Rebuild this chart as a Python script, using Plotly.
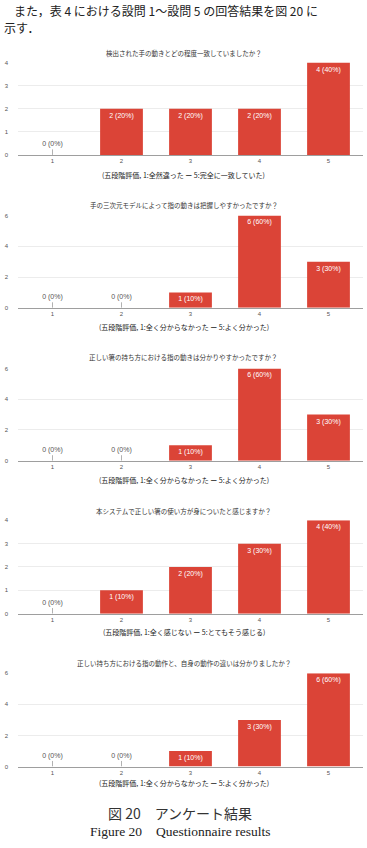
import plotly.graph_objects as go

W, H = 367, 848

categories = ["1", "2", "3", "4", "5"]

titles = [
    "検出された手の動きとどの程度一致していましたか？",
    "手の三次元モデルによって指の動きは把握しやすかったですか？",
    "正しい箸の持ち方における指の動きは分かりやすかったですか？",
    "本システムで正しい箸の使い方が身についたと感じますか？",
    "正しい持ち方における指の動作と、自身の動作の違いは分かりましたか？",
]
xlabels = [
    "(五段階評価, 1:全然違った ー 5:完全に一致していた)",
    "(五段階評価, 1:全く分からなかった ー 5:よく分かった)",
    "(五段階評価, 1:全く分からなかった ー 5:よく分かった)",
    "(五段階評価, 1:全く感じない ー 5:とてもそう感じる)",
    "(五段階評価, 1:全く分からなかった ー 5:よく分かった)",
]
q1 = [0, 2, 2, 2, 4]
q2 = [0, 0, 1, 6, 3]
q3 = [0, 0, 1, 6, 3]
q4 = [0, 1, 2, 3, 4]
q5 = [0, 0, 1, 3, 6]
series = [q1, q2, q3, q4, q5]
yticks = [[0, 1, 2, 3, 4], [0, 2, 4, 6], [0, 2, 4, 6], [0, 1, 2, 3, 4], [0, 2, 4, 6]]

intro_line1 = "また，表 4 における設問 1～設問 5 の回答結果を図 20 に"
intro_line2 = "示す．"
caption_ja = "図 20　アンケート結果"
caption_en = "Figure 20　Questionnaire results"

# layout in pixels (top, bottom) of each plot area
areas = [(60, 153), (214, 307), (368, 461), (521, 615), (675, 769)]
title_y = [50, 203, 357, 512, 665]
xlab_y = [173, 326, 480, 633, 786]
x0, x1 = 18, 363

RED = "#DB4437"
JP = "Noto Sans CJK JP"

def py(p):
    return 1 - p / H

fig = go.Figure()
annotations = []
for i, vals in enumerate(series):
    total = sum(vals)
    n = i + 1
    xa = "x" if n == 1 else f"x{n}"
    ya = "y" if n == 1 else f"y{n}"
    labels = [f"{v} ({round(100 * v / total)}%)" for v in vals]
    fig.add_trace(go.Bar(
        x=categories, y=vals, xaxis=xa, yaxis=ya,
        marker=dict(color=RED, line=dict(width=0)),
        width=0.62, text=[l if v else "" for l, v in zip(labels, vals)],
        textposition="inside",
        insidetextanchor="end", textangle=0, constraintext="none",
        textfont=dict(size=7, color="white", family="Arial"),
        showlegend=False, hoverinfo="skip",
    ))
    ymax = max(vals)
    zx = [c for c, v in zip(categories, vals) if v == 0]
    zl = [l for l, v in zip(labels, vals) if v == 0]
    if zx:
        fig.add_trace(go.Scatter(
            x=zx, y=[0] * len(zx), xaxis=xa, yaxis=ya, mode="markers",
            marker=dict(size=1, color="rgba(0,0,0,0)"),
            error_y=dict(type="data", array=[ymax * 0.06] * len(zx),
                         arrayminus=[0] * len(zx), symmetric=False,
                         width=0, thickness=0.8, color="#9e9e9e"),
            showlegend=False, hoverinfo="skip",
        ))
        fig.add_trace(go.Scatter(
            x=zx, y=[ymax * 0.115] * len(zx), xaxis=xa, yaxis=ya, mode="text",
            text=zl, textposition="middle center",
            textfont=dict(size=7, color="#555555", family="Arial"),
            showlegend=False, hoverinfo="skip",
        ))
    t, b = areas[i]
    fig.layout[f"xaxis{'' if n == 1 else n}"] = dict(
        domain=[x0 / W, x1 / W], anchor=ya, type="category",
        range=[-0.5, 4.5], showgrid=False, showline=True,
        linecolor="#9e9e9e", linewidth=1, ticks="",
        tickfont=dict(size=6, color="#555555", family="Arial"), fixedrange=True,
    )
    fig.layout[f"yaxis{'' if n == 1 else n}"] = dict(
        domain=[py(b), py(t)], anchor=xa, range=[0, ymax],
        tickvals=yticks[i], showgrid=True, gridcolor="#ececec",
        gridwidth=1, zeroline=False, showline=False,
        tickfont=dict(size=6, color="#555555", family="Arial"),
        ticklabelstandoff=9,
    )
    annotations.append(dict(
        text=titles[i], x=0.5, y=py(title_y[i]), xref="paper", yref="paper",
        showarrow=False, xanchor="center", yanchor="middle",
        font=dict(size=6.5, color="#333333", family=JP),
    ))
    annotations.append(dict(
        text=xlabels[i], x=0.5, y=py(xlab_y[i]), xref="paper", yref="paper",
        showarrow=False, xanchor="center", yanchor="middle",
        font=dict(size=7, color="#222222", family=JP),
    ))

annotations += [
    dict(text=intro_line1, x=12 / W, y=py(8), xref="paper", yref="paper",
         showarrow=False, xanchor="left", yanchor="middle",
         font=dict(size=12, color="#222222", family=JP)),
    dict(text=intro_line2, x=2 / W, y=py(25), xref="paper", yref="paper",
         showarrow=False, xanchor="left", yanchor="middle",
         font=dict(size=12, color="#222222", family=JP)),
    dict(text=caption_ja, x=180 / W, y=py(816), xref="paper", yref="paper",
         showarrow=False, xanchor="center", yanchor="middle",
         font=dict(size=14, color="#333333", family=JP)),
    dict(text=caption_en, x=180 / W, y=py(834), xref="paper", yref="paper",
         showarrow=False, xanchor="center", yanchor="middle",
         font=dict(size=13.5, color="#222222", family="Liberation Serif")),
]

fig.update_layout(
    width=W, height=H, margin=dict(l=0, r=0, t=0, b=0),
    paper_bgcolor="white", plot_bgcolor="white",
    annotations=annotations,
)

fig.write_html("out.html", config={"displayModeBar": False})
